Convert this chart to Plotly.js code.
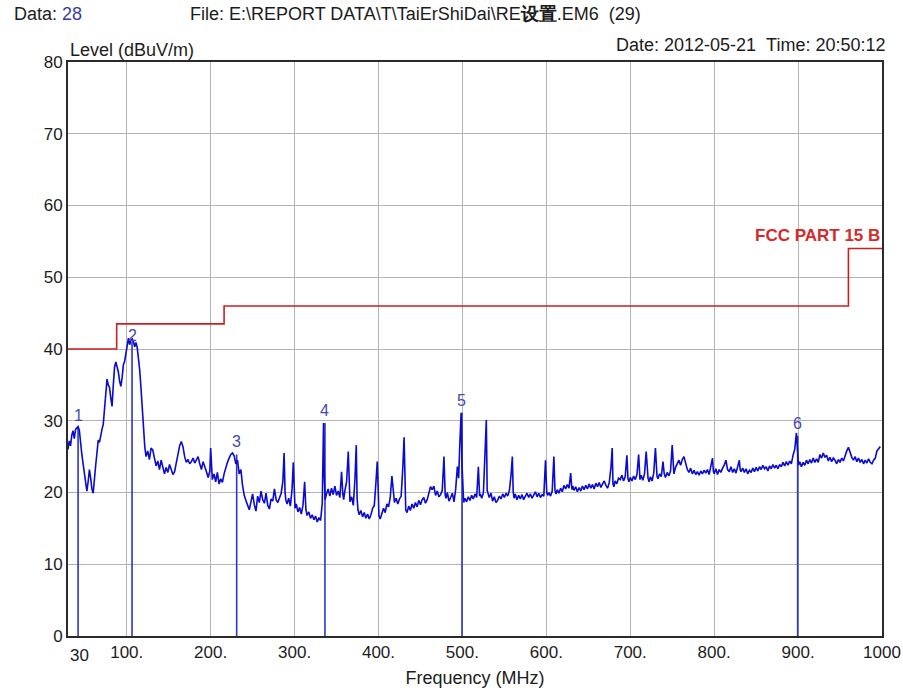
<!DOCTYPE html>
<html>
<head>
<meta charset="utf-8">
<script src="https://cdn.plot.ly/plotly-3.0.1.min.js"></script>
<style>html,body{margin:0;padding:0;background:#fff;}#chart{width:903px;height:691px;}</style>
</head>
<body>
<div id="chart"></div>
<script>
// Measured spectrum (MHz, dBuV/m)
var freq = [
30,31.5,33,34.5,36,37.5,39,40.5,42,43.5,45,46.5,48,49.5,51,52.5,54,55.5,57,58.5,60,61.5,63,64.5,66,67.5,69,70.5,72,73.5,75,76.5,78,79.5,81,82.5,84,85.5,87,88.5,90,91.5,93,94.5,96,97.5,99,100.5,102,103.5,105,106.5,108,109.5,111,112.5,114,115.5,117,118.5,120,121.5,123,125,127,129,131,133,135,137,139,141,143,145,147,149,151,153,155,157,159,161,163,165,167,169,171,173,175,177,179,181,183,185,187,189,191,193,195,197,199,200,201,202,204,206,208,210,212,214,216,218,220,222,224,226,228,230,232,234,236,238,
240,242,244,246,248,250,252,254,256,258,260,262,264,266,268,270,272,274,276,278,280,282,284,286,287.5,288.6,289.5,291,293,295,297,298.5,299.5,300.5,302,304,306,308,310,312,313.5,315,317,319,321,323,325,327,329,331,333,334.5,335.5,336.5,338,340,342,344,346,348,350,352,354,356,357.5,358.5,360,362,364,365,366,368,370,372,373.5,374.5,375.5,377,379,381,383,385,387,389,391,393,395,397,398.5,399.5,400.5,402,404,406,408,410,412,414,416,418,419,421,423,425,427,429,430.5,431.6,432.5,434,436,438,440,442,444,446,448,450,452,454,456,458,460,462,464,466,468,470,472,474,476,478,479.5,480.5,482,484,486,488,490,492,494,495.5,497,498.5,499.5,500.5,501.5,503,505,507,509,511,513,515,517,519,520.5,521.5,523,525,527,528.5,529.5,530.5,532,534,536,538,540,542,544,546,548,550,552,554,556,558,559.5,560.5,561.5,563,565,567,569,571,573,575,577,579,581,583,585,587,589,591,593,595,597,599,600.5,601.5,603,605,607,609,610.3,611.5,613,615,617,619,621,623,625,627,629,630.5,631.5,633,635,637,639,641,643,645,647,649,651,653,655,657,659,661,663,665,667,669,671,673,675,677,678.5,679.4,680.5,682,684,686,688,690,692,694,696,697.3,698.5,700,702,704,706,708,710,711.6,713,715,717,719,721.2,722.5,724,726,728,730,731.9,733,735,737,739,740.5,742,744,746,748,750,751,752,754,756,758,760,762,764,766,768,770,772,774,776,778,780,782,784,786,788,790,792,794,796,798,799,800,802,804,806,808,810,812,814,816,818,820,822,824,826,828,830,831,832,834,836,838,840,842,844,846,848,850,852,854,856,858,860,862,864,866,868,870,872,874,876,878,880,882,884,886,888,890,892,894,896,898,899.5,900.5,902,904,906,908,910,912,914,916,918,920,922,924,926,928,930,932,934,936,938,940,942,944,946,948,950,952,954,956,958,960,962,964,966,968,970,972,974,976,978,980,982,984,986,988,990,992,994,996,998,1000
];
var level = [
26.0,27.2,26.5,28.0,28.6,27.5,28.8,29.0,29.2,28.7,26.5,25.3,24.0,22.5,21.0,20.2,21.5,23.2,22.0,20.5,19.9,22.5,23.8,25.5,27.3,27.0,28.2,28.8,29.5,31.5,33.8,35.8,35.0,34.6,33.2,32.0,35.0,37.5,38.2,37.6,36.8,35.5,34.8,36.0,37.8,38.3,39.5,40.8,41.5,40.6,41.2,41.4,41.0,40.3,40.9,40.2,38.8,37.0,34.5,31.2,28.5,26.4,25.0,25.8,24.6,26.2,25.9,24.8,23.7,24.4,23.2,24.5,23.4,22.6,23.5,22.8,23.9,23.0,22.5,22.9,24.0,25.0,26.5,27.1,26.4,25.0,24.2,24.6,24.0,24.3,24.8,24.1,24.6,25.0,24.0,23.2,24.3,23.4,22.9,22.1,23.0,26.2,22.5,21.8,22.6,21.5,22.8,21.2,21.9,21.4,22.6,23.5,24.2,24.8,25.3,25.5,25.1,24.0,24.5,22.6,23.2,
21.0,19.6,18.9,18.1,17.6,18.7,19.8,18.3,17.4,19.5,18.6,20.2,19.0,18.5,19.9,18.2,17.7,19.1,18.8,20.5,19.0,18.6,19.3,19.9,21.5,25.5,20.2,19.0,18.4,19.2,18.1,20.5,24.2,19.3,17.8,18.4,17.3,17.9,17.0,18.2,21.5,17.6,16.8,17.3,16.4,16.9,16.2,16.7,15.9,16.5,16.1,18.5,29.7,22.0,19.0,19.8,20.5,19.5,20.6,19.7,20.9,19.6,20.2,19.3,22.9,19.8,19.0,20.3,21.5,25.7,19.9,18.7,19.4,18.2,22.0,26.6,19.2,17.6,16.9,17.5,16.6,17.2,16.4,17.0,16.3,16.9,17.8,18.2,21.5,24.3,21.0,16.8,16.3,17.0,17.8,17.2,18.4,18.0,19.3,22.3,19.5,18.6,19.2,18.4,19.1,19.5,23.5,27.7,22.0,17.6,17.2,18.1,17.5,18.4,17.8,18.6,18.0,18.9,18.3,19.0,19.3,18.5,19.0,20.1,20.8,20.4,20.9,19.6,20.2,19.4,19.7,20.3,25.0,19.6,19.2,20.0,18.8,19.3,19.9,18.7,20.5,23.6,22.0,27.0,31.1,24.0,19.5,18.6,19.2,18.7,19.4,18.9,19.6,19.1,19.8,19.3,23.6,19.5,19.8,19.2,19.9,26.0,30.1,20.3,19.8,19.3,19.9,18.8,19.4,18.6,18.9,19.5,19.1,19.8,19.3,19.9,19.5,20.3,22.5,25.0,20.2,19.2,19.8,19.0,19.6,19.1,19.7,19.0,19.5,19.9,19.3,19.8,19.2,19.6,20.1,19.4,19.9,19.3,19.7,19.5,24.5,20.0,19.6,20.0,19.5,20.2,25.0,20.3,19.8,20.4,19.9,20.6,20.1,21.0,20.5,21.1,20.6,22.7,20.4,20.9,20.3,20.8,20.1,20.7,20.2,20.9,20.4,21.0,20.5,21.2,20.6,21.1,20.5,21.3,20.8,21.4,20.7,21.2,21.6,21.0,20.6,21.4,23.5,26.2,21.2,20.8,21.6,21.2,22.0,21.8,22.4,21.6,22.2,25.2,21.9,21.5,22.1,21.6,22.3,21.8,22.5,25.3,21.8,22.4,21.7,22.6,25.7,22.0,21.5,22.2,21.6,22.7,26.2,22.3,21.9,22.6,22.2,24.3,22.6,22.1,22.8,22.3,23.0,26.6,23.1,22.6,23.5,24.1,24.5,23.8,24.6,25.0,24.0,23.2,22.8,23.4,22.6,23.1,22.5,22.9,22.4,23.0,22.6,23.1,22.7,23.2,22.5,23.6,24.8,23.0,22.6,23.3,22.5,23.2,22.8,23.4,23.8,24.5,23.2,22.9,23.6,22.8,23.3,22.7,23.5,24.5,23.2,22.9,23.4,22.8,23.3,22.6,23.1,22.8,23.4,22.9,23.5,23.0,23.6,23.2,23.8,23.3,23.6,23.0,23.7,23.3,23.9,23.4,23.8,23.3,23.9,23.6,24.2,23.7,24.3,23.8,24.4,24.0,25.2,26.0,28.3,25.0,23.8,24.3,23.6,24.2,23.8,24.5,24.0,24.6,24.1,24.8,24.2,24.7,24.2,25.3,24.8,25.5,24.9,25.2,24.4,24.9,24.3,24.8,24.5,24.0,24.6,24.2,24.8,24.4,25.3,25.8,26.3,25.5,24.9,24.5,25.0,24.3,24.8,24.2,24.6,24.0,24.5,24.1,24.7,24.2,24.0,24.5,24.8,25.8,26.2,26.4
];

// FCC Part 15 Class B limit
var limitFreq  = [30, 88, 88, 216, 216, 960, 960, 1000];
var limitLevel = [40, 40, 43.5, 43.5, 46, 46, 54, 54];
var limitName = "FCC PART 15 B";

// Markers
var markerNo    = ["1", "2", "3", "4", "5", "6"];
var markerFreq  = [42.0, 106.3, 231.0, 336.2, 499.5, 899.5];
var markerLevel = [29.0, 41.0, 25.3, 29.7, 31.1, 27.9];

// Axis ticks
var xTickVals = [100, 200, 300, 400, 500, 600, 700, 800, 900, 1000];
var xTickText = ["100.", "200.", "300.", "400.", "500.", "600.", "700.", "800.", "900.", "1000"];
var yTickVals = [0, 10, 20, 30, 40, 50, 60, 70, 80];

var FONT = "Liberation Sans, Arial, sans-serif";
var TXT = "#1c1c1c";

var traces = [];
// marker sticks
var mx = [], my = [];
for (var i = 0; i < markerFreq.length; i++) {
  mx.push(markerFreq[i], markerFreq[i], null);
  my.push(0, markerLevel[i], null);
}
traces.push({x: mx, y: my, mode: "lines", line: {color: "#2b35c8", width: 1.6}, hoverinfo: "skip", showlegend: false});
traces.push({x: freq, y: level, mode: "lines", line: {color: "#0a0ad0", width: 1.6}, showlegend: false});
traces.push({x: limitFreq, y: limitLevel, mode: "lines", line: {color: "#cc1f1f", width: 1.6}, showlegend: false});

var ann = [];
for (var j = 0; j < markerNo.length; j++) {
  ann.push({x: markerFreq[j], y: markerLevel[j], text: markerNo[j], showarrow: false,
    yanchor: "bottom", yshift: (j === 1 ? -4 : 2), font: {family: FONT, size: 16, color: "#4646b4"}});
}
ann.push({x: 1000, y: 54, xanchor: "right", yanchor: "bottom", yshift: 2, text: "<b>" + limitName + "</b>", showarrow: false,
  font: {family: FONT, size: 17, color: "#d42a2a"}});
ann.push({xref: "paper", yref: "paper", x: -0.0688, y: 1.0836, xanchor: "left", yanchor: "middle", showarrow: false,
  text: "Data: <span style='color:#3a3aa6'>28</span>", font: {family: FONT, size: 18, color: TXT}});
ann.push({xref: "paper", yref: "paper", x: 0.1474, y: 1.0836, xanchor: "left", yanchor: "middle", showarrow: false,
  text: "File: E:\\REPORT DATA\\T\\TaiErShiDai\\RE<b>设置</b>.EM6\u00a0\u00a0(29)", font: {family: FONT, size: 18, color: TXT}});
ann.push({xref: "paper", yref: "paper", x: 1.0074, y: 1.0296, xanchor: "right", yanchor: "middle", showarrow: false,
  text: "Date: 2012-05-21\u00a0\u00a0Time: 20:50:12", font: {family: FONT, size: 18, color: TXT}});
ann.push({xref: "paper", yref: "paper", x: 0, y: 1.021, xanchor: "left", yanchor: "middle", showarrow: false,
  text: "Level (dBuV/m)", font: {family: FONT, size: 18, color: TXT}});
ann.push({x: 30, xref: "x", yref: "paper", y: 0, yanchor: "top", xanchor: "left", yshift: -8, showarrow: false,
  text: "30", font: {family: FONT, size: 17, color: TXT}});

var layout = {
  width: 903, height: 691,
  margin: {l: 68, r: 21, t: 62, b: 55},
  paper_bgcolor: "#ffffff", plot_bgcolor: "#ffffff",
  xaxis: {range: [30, 1000], tickvals: xTickVals, ticktext: xTickText, showgrid: true, gridcolor: "#b4b4b4", gridwidth: 1,
    zeroline: false, showline: true, mirror: true, linecolor: "#2a2a2a", linewidth: 2, ticks: "",
    tickfont: {family: FONT, size: 17, color: TXT},
    title: {text: "Frequency (MHz)", font: {family: FONT, size: 18, color: TXT}, standoff: 10}},
  yaxis: {range: [0, 80], tickvals: yTickVals, showgrid: true, gridcolor: "#b4b4b4", gridwidth: 1,
    zeroline: false, showline: true, mirror: true, linecolor: "#2a2a2a", linewidth: 2, ticks: "",
    tickfont: {family: FONT, size: 17, color: TXT}},
  annotations: ann,
  showlegend: false
};

Plotly.newPlot("chart", traces, layout, {displayModeBar: false, staticPlot: true});
</script>
</body>
</html>
